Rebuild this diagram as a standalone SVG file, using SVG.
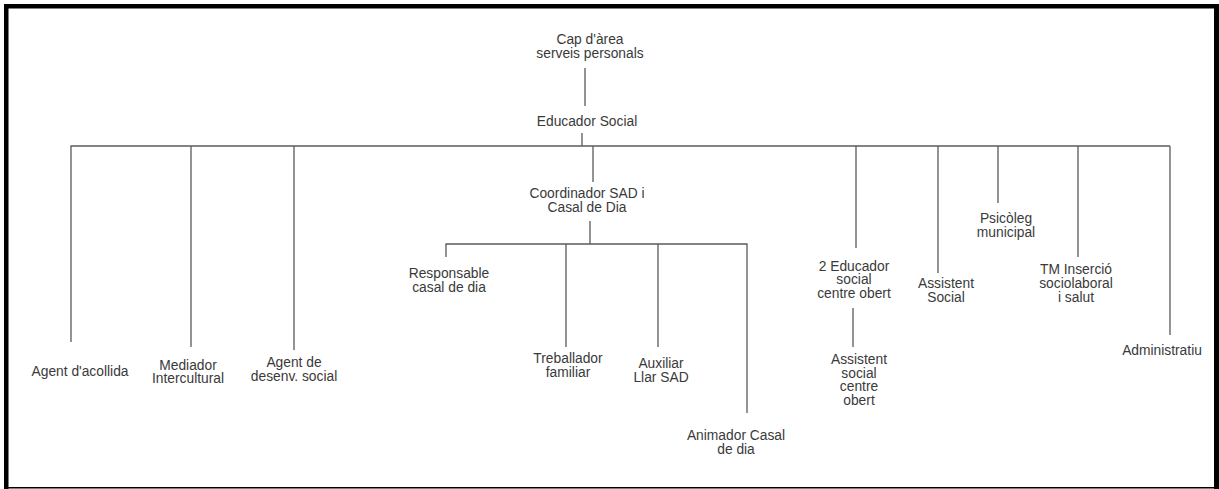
<svg xmlns="http://www.w3.org/2000/svg" width="1219" height="489" viewBox="0 0 1219 489">
<style>
.t{font-family:"Liberation Sans",Arial,sans-serif;font-size:13.8px;fill:#3a3a3a;text-anchor:middle}
.c line{stroke:#5a5a5a;stroke-width:1.3}
</style>
<rect x="0" y="0" width="1219" height="489" fill="#fff"/>
<g id="frame" fill="#000">
<rect x="4" y="4" width="1215" height="4.5"/>
<rect x="4" y="4" width="4.5" height="485"/>
<rect x="1214" y="4" width="5" height="485"/>
<rect x="4" y="487" width="1215" height="1.5"/>
</g>
<g class="c" id="connectors">
<line x1="585" y1="68" x2="585" y2="106"/>
<line x1="582" y1="133" x2="582" y2="146"/>
<line x1="70.5" y1="146" x2="1170" y2="146"/>
<line x1="71" y1="146" x2="71" y2="342"/>
<line x1="191" y1="146" x2="191" y2="347"/>
<line x1="294" y1="146" x2="294" y2="350"/>
<line x1="593" y1="146" x2="593" y2="182"/>
<line x1="856" y1="146" x2="856" y2="248"/>
<line x1="938" y1="146" x2="938" y2="273"/>
<line x1="998" y1="146" x2="998" y2="203"/>
<line x1="1078" y1="146" x2="1078" y2="257"/>
<line x1="1170" y1="146" x2="1170" y2="335"/>
<line x1="590" y1="221" x2="590" y2="244"/>
<line x1="445.5" y1="244" x2="747.5" y2="244"/>
<line x1="446" y1="244" x2="446" y2="257"/>
<line x1="566" y1="244" x2="566" y2="347"/>
<line x1="658" y1="244" x2="658" y2="347"/>
<line x1="747" y1="244" x2="747" y2="413"/>
<line x1="853" y1="308" x2="853" y2="347"/>
</g>
<g id="cap"><text class="t" x="590" y="44">Cap d'àrea</text><text class="t" x="590" y="58">serveis personals</text></g>
<g id="educador"><text class="t" x="587" y="126">Educador Social</text></g>
<g id="agent-acollida"><text class="t" x="80" y="376">Agent d'acollida</text></g>
<g id="mediador"><text class="t" x="188" y="370">Mediador</text><text class="t" x="188" y="383">Intercultural</text></g>
<g id="agent-desenv"><text class="t" x="294" y="367">Agent de</text><text class="t" x="294" y="381">desenv. social</text></g>
<g id="coordinador"><text class="t" x="587" y="198">Coordinador SAD i</text><text class="t" x="587" y="212">Casal de Dia</text></g>
<g id="responsable"><text class="t" x="449" y="278">Responsable</text><text class="t" x="449" y="292">casal de dia</text></g>
<g id="treballador"><text class="t" x="568" y="363">Treballador</text><text class="t" x="568" y="377">familiar</text></g>
<g id="auxiliar"><text class="t" x="661" y="368">Auxiliar</text><text class="t" x="661" y="382">Llar SAD</text></g>
<g id="animador"><text class="t" x="736" y="440">Animador Casal</text><text class="t" x="736" y="454">de dia</text></g>
<g id="educador-co"><text class="t" x="854" y="271">2 Educador</text><text class="t" x="854" y="284">social</text><text class="t" x="854" y="298">centre obert</text></g>
<g id="assistent-co"><text class="t" x="859" y="364">Assistent</text><text class="t" x="859" y="378">social</text><text class="t" x="859" y="391">centre</text><text class="t" x="859" y="405">obert</text></g>
<g id="assistent-social"><text class="t" x="946" y="288">Assistent</text><text class="t" x="946" y="302">Social</text></g>
<g id="psicoleg"><text class="t" x="1006" y="223">Psicòleg</text><text class="t" x="1006" y="237">municipal</text></g>
<g id="tm"><text class="t" x="1076" y="274">TM Inserció</text><text class="t" x="1076" y="288">sociolaboral</text><text class="t" x="1076" y="302">i salut</text></g>
<g id="administratiu"><text class="t" x="1162" y="355">Administratiu</text></g>
</svg>
